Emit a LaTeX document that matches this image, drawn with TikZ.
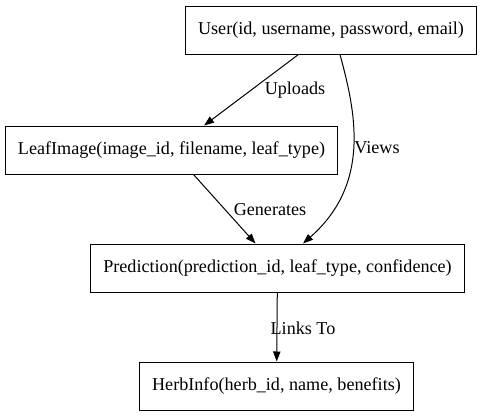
\documentclass[tikz,border=0pt]{standalone}
\usepackage{fontspec}
\setmainfont{Liberation Serif}
\usetikzlibrary{arrows.meta}
\usetikzlibrary{calc}

\begin{document}
\begin{tikzpicture}[>={Triangle[length=7.5pt,width=5.5pt]},x=0.75pt,y=-0.75pt,line width=0.75pt,
        every node/.style={font=\rmfamily\fontsize{13.6}{16}\selectfont},
        entity/.style={draw,inner xsep=9.5pt,minimum height=36pt}]
        \useasboundingbox (0,0) rectangle (482,418);
        \node[entity] (U) at (331,30) {User(id, username, password, email)};
        \node[entity] (L) at (171.5,150) {LeafImage(image\_id, filename, leaf\_type)};
        \node[entity] (P) at (277.5,268) {Prediction(prediction\_id, leaf\_type, confidence)};
        \node[entity] (H) at (276.5,386) {HerbInfo(herb\_id, name, benefits)};
        \draw[->] (U) -- (L);
        \draw[->] ($(U.south)+(9,0)$) .. controls (355,110) and (372,183) .. ($(P.north)+(25.5,0)$);
        \draw[->] (L) -- (P);
        \draw[->] (P) -- (H);
        \node (u1) at (295,90) {Uploads};
        \node (v1) at (377,148) {Views};
        \node (g1) at (270,210) {Generates};
        \node (k1) at (303,328) {Links To};
    \end{tikzpicture}
\end{document}
